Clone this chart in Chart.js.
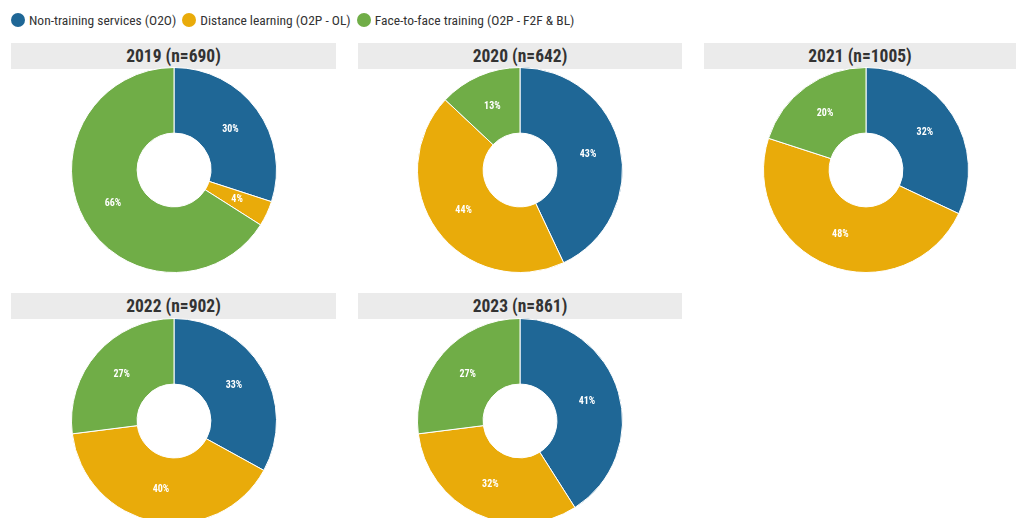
<!DOCTYPE html>
<html><head><meta charset="utf-8">
<script src="https://cdn.jsdelivr.net/npm/chart.js@4/dist/chart.umd.min.js"></script>
<style>
html,body{margin:0;padding:0;background:#fff;width:1016px;height:518px;overflow:hidden;}
body{position:relative;font-family:"Roboto Condensed","Liberation Sans Narrow","DejaVu Sans Condensed",Roboto,sans-serif;}
.legend{position:absolute;left:11px;top:11px;height:18px;display:flex;align-items:center;font-size:13.5px;color:#333;white-space:nowrap;}
.legend .item{display:flex;align-items:center;margin-right:6px;}
.legend .dot{width:14px;height:14px;border-radius:50%;margin-right:4px;}
.title{position:absolute;height:26px;background:#ebebeb;color:#333;font-weight:bold;font-size:17.5px;line-height:26px;text-align:center;}
.chart{position:absolute;width:206px;height:206px;}
</style></head><body>
<div class="legend" id="legend"></div>
<script>
const categories = ["Non-training services (O2O)", "Distance learning (O2P - OL)", "Face-to-face training (O2P - F2F & BL)"];
const colors = ["#1f6796", "#e9ab0a", "#70ad47"];
const panelTitles = ["2019 (n=690)", "2020 (n=642)", "2021 (n=1005)", "2022 (n=902)", "2023 (n=861)"];
const v2019 = [30, 4, 66];
const v2020 = [43, 44, 13];
const v2021 = [32, 48, 20];
const v2022 = [33, 40, 27];
const v2023 = [41, 32, 27];
const panelValues = [v2019, v2020, v2021, v2022, v2023];

// layout (positions only)
const panels = [
  {tx:11, tw:325, ty:43, cx:174, cy:170},
  {tx:358, tw:324, ty:43, cx:520, cy:170},
  {tx:704, tw:312, ty:43, cx:866, cy:170},
  {tx:11, tw:325, ty:293, cx:174, cy:421},
  {tx:358, tw:324, ty:293, cx:520, cy:421}
];

const leg = document.getElementById('legend');
categories.forEach((c,i)=>{
  const it=document.createElement('div');it.className='item';
  const d=document.createElement('div');d.className='dot';d.style.background=colors[i];
  const t=document.createElement('span');t.textContent=c;
  it.appendChild(d);it.appendChild(t);leg.appendChild(it);
});

const labelPlugin = {
  id:'sliceLabels',
  afterDatasetsDraw(chart){
    const ctx=chart.ctx;
    const meta=chart.getDatasetMeta(0);
    ctx.save();
    ctx.fillStyle='#fff';
    ctx.font='bold 10px "Roboto Condensed","Liberation Sans Narrow","DejaVu Sans Condensed",Roboto,sans-serif';
    ctx.textAlign='center';ctx.textBaseline='middle';
    meta.data.forEach((arc,i)=>{
      const p=arc.tooltipPosition();
      ctx.fillText(chart.data.datasets[0].data[i]+'%',p.x,p.y);
    });
    ctx.restore();
  }
};

panels.forEach((p,k)=>{
  const t=document.createElement('div');t.className='title';
  t.style.left=p.tx+'px';t.style.top=p.ty+'px';t.style.width=p.tw+'px';
  t.textContent=panelTitles[k];document.body.appendChild(t);
  const w=document.createElement('div');w.className='chart';
  w.style.left=(p.cx-103)+'px';w.style.top=(p.cy-103)+'px';
  const cv=document.createElement('canvas');w.appendChild(cv);document.body.appendChild(w);
  new Chart(cv,{
    type:'doughnut',
    data:{labels:categories,datasets:[{data:panelValues[k],backgroundColor:colors,borderColor:'#ffffff',borderWidth:1}]},
    options:{responsive:true,maintainAspectRatio:false,animation:false,cutout:'36%',
      layout:{padding:0},
      plugins:{legend:{display:false},tooltip:{enabled:false}}},
    plugins:[labelPlugin]
  });
});
</script>
</body></html>
